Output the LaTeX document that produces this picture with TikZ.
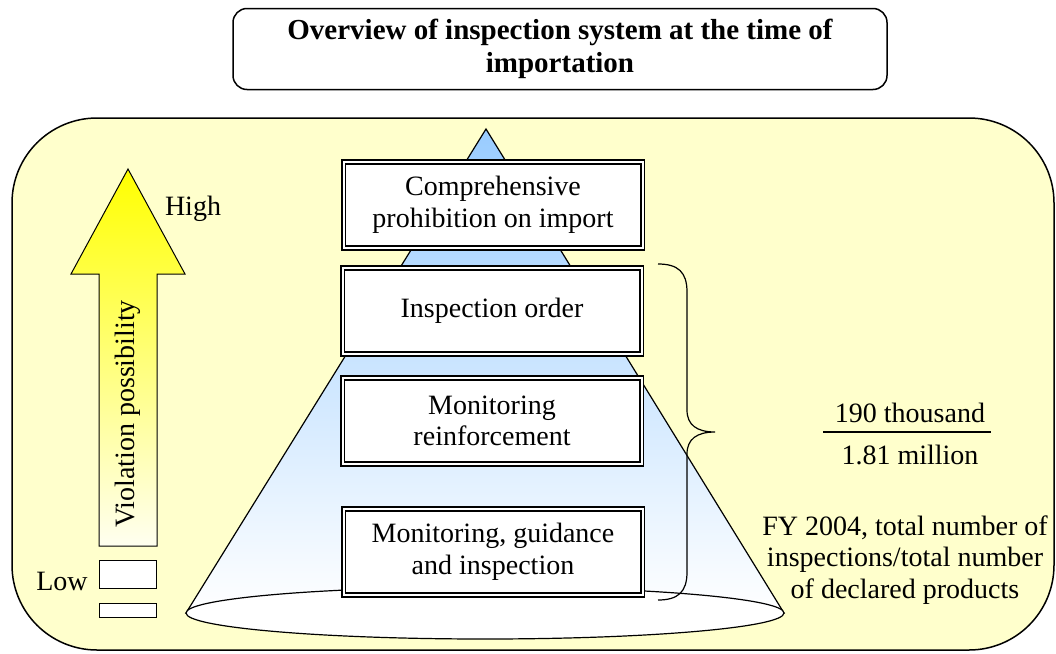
\documentclass[tikz,border=0pt]{standalone}
\usepackage{fontspec}
\setmainfont{Liberation Serif}
\usetikzlibrary{positioning}
\definecolor{paleyellow}{HTML}{FFFFCC}
\definecolor{coneblue}{HTML}{99CCFF}
\definecolor{arrowend}{HTML}{FFFFF0}

\begin{document}
\begin{tikzpicture}[x=1pt,y=-1pt,font=\fontsize{28}{31.5}\selectfont,
	stage/.style={draw,double=white,double distance=2pt,line width=1.8pt,fill=white,
		minimum width=299pt,minimum height=86pt,align=center,inner sep=0pt}]
	\useasboundingbox (0,0) rectangle (1056,653);
	\draw[fill=paleyellow,line width=1.5pt,rounded corners=85pt] (12,118) rectangle (1054,650);
	\node[draw,fill=white,line width=1.5pt,rounded corners=14pt,minimum width=654pt,minimum height=81pt,
		align=center,font=\bfseries\fontsize{29}{33}\selectfont] (title) at (560,49)
		{Overview of inspection system at the time of\\importation};
	% violation arrow
	\shadedraw[top color=yellow,bottom color=arrowend,line width=1pt]
		(128,169) -- (185,274) -- (157,274) -- (157,546) -- (99,546) -- (99,274) -- (71,274) -- cycle;
	\node[rotate=90] (violation) at (128,414) {Violation possibility};
	\node (high) at (193,209) {High};
	\draw[fill=white,line width=1pt] (99,560) rectangle (156,588);
	\draw[fill=white,line width=1pt] (99,603) rectangle (156,617);
	\node (low) at (62,581) {Low};
	% cone
	\coordinate (apex) at (486,129);
	\coordinate (left) at (186,613);
	\coordinate (right) at (784,613);
	\shadedraw[top color=coneblue,bottom color=white,line width=1.2pt] (apex) -- (left) -- (right) -- cycle;
	\draw[fill=white,line width=1.2pt] (485,613) ellipse [x radius=299pt,y radius=26pt];
	% stages
	\node[stage] (prohibit) at (493,205) {Comprehensive\\prohibition on import};
	\node[stage] (order) at (492,311) {Inspection order};
	\node[stage] (reinforce) at (492,421) {Monitoring\\reinforcement};
	\node[stage] (guidance) at (493,552) {Monitoring, guidance\\and inspection};
	% brace
	\draw[line width=1.2pt] (658,264) .. controls (678,264) and (687,272) .. (687,292) -- (687,410)
		.. controls (687,425) and (697,432) .. (715,432) .. controls (697,432) and (687,439) .. (687,454)
		-- (687,572) .. controls (687,592) and (678,600) .. (658,600);
	% ratio
	\node (inspected) at (910,413) {190 thousand};
	\node (declared) at (910,455) {1.81 million};
	\draw[line width=1.2pt] (823,432) -- (991,432);
	\node[align=center] (note) at (905,560) {FY 2004, total number of\\inspections/total number\\of declared products};
\end{tikzpicture}
\end{document}
